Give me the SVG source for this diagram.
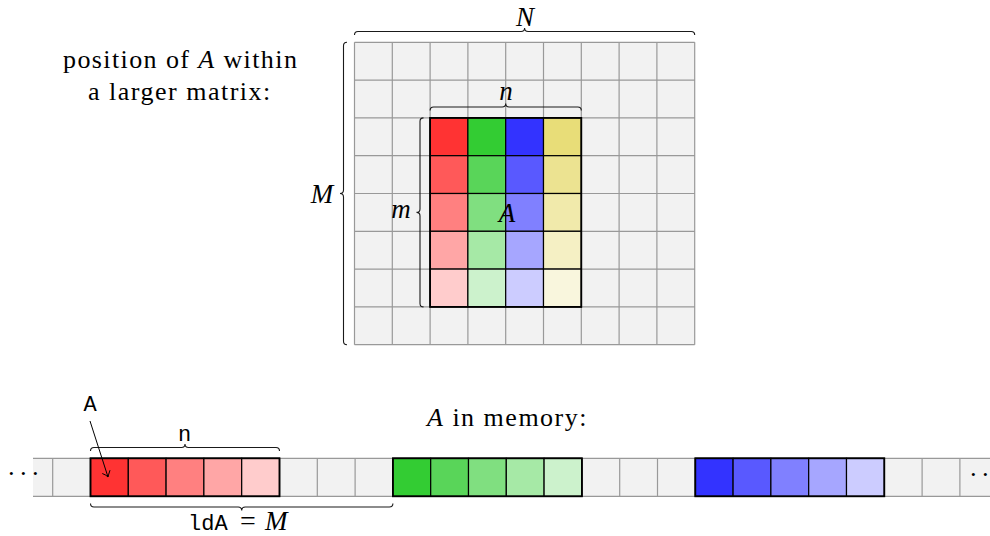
<svg xmlns="http://www.w3.org/2000/svg" width="990" height="536" viewBox="0 0 990 536">
<g id="big-matrix">
<rect fill="#f2f2f2" x="354.5" y="42.3" width="340.2" height="302.4"/>
<path fill="none" stroke="#999" stroke-width="1.2" d="M354.5,42.3V344.7M392.3,42.3V344.7M430.1,42.3V344.7M467.9,42.3V344.7M505.7,42.3V344.7M543.5,42.3V344.7M581.3,42.3V344.7M619.1,42.3V344.7M656.9,42.3V344.7M694.7,42.3V344.7M354.5,42.3H694.7M354.5,80.1H694.7M354.5,117.9H694.7M354.5,155.7H694.7M354.5,193.5H694.7M354.5,231.3H694.7M354.5,269.1H694.7M354.5,306.9H694.7M354.5,344.7H694.7"/>
</g>

<g id="matrix-A" stroke="#000" stroke-width="1.2">
<rect fill="#ff3333" x="430.1" y="117.9" width="37.8" height="37.8"/>
<rect fill="#ff5959" x="430.1" y="155.7" width="37.8" height="37.8"/>
<rect fill="#ff8080" x="430.1" y="193.5" width="37.8" height="37.8"/>
<rect fill="#ffa6a6" x="430.1" y="231.3" width="37.8" height="37.8"/>
<rect fill="#ffcccc" x="430.1" y="269.1" width="37.8" height="37.8"/>
<rect fill="#33cc33" x="467.9" y="117.9" width="37.8" height="37.8"/>
<rect fill="#59d559" x="467.9" y="155.7" width="37.8" height="37.8"/>
<rect fill="#80df80" x="467.9" y="193.5" width="37.8" height="37.8"/>
<rect fill="#a6e9a6" x="467.9" y="231.3" width="37.8" height="37.8"/>
<rect fill="#ccf2cc" x="467.9" y="269.1" width="37.8" height="37.8"/>
<rect fill="#3333ff" x="505.7" y="117.9" width="37.8" height="37.8"/>
<rect fill="#5959ff" x="505.7" y="155.7" width="37.8" height="37.8"/>
<rect fill="#8080ff" x="505.7" y="193.5" width="37.8" height="37.8"/>
<rect fill="#a6a6ff" x="505.7" y="231.3" width="37.8" height="37.8"/>
<rect fill="#ccccff" x="505.7" y="269.1" width="37.8" height="37.8"/>
<rect fill="#e8dd78" x="543.5" y="117.9" width="37.8" height="37.8"/>
<rect fill="#ece391" x="543.5" y="155.7" width="37.8" height="37.8"/>
<rect fill="#f1eaab" x="543.5" y="193.5" width="37.8" height="37.8"/>
<rect fill="#f5f0c4" x="543.5" y="231.3" width="37.8" height="37.8"/>
<rect fill="#f9f6dd" x="543.5" y="269.1" width="37.8" height="37.8"/>
<rect fill="none" stroke-width="1.8" x="430.1" y="117.9" width="151.2" height="189"/>
</g>

<g id="braces-top" fill="none" stroke="#1a1a1a" stroke-width="1.1">
<path d="M354.5,35Q354.5,31.5 358,31.5H521.1Q524.6,31.5 524.6,28Q524.6,31.5 528.1,31.5H691.2Q694.7,31.5 694.7,35"/>
<path d="M347,42.3Q343.5,42.3 343.5,45.8V190Q343.5,193.5 340,193.5Q343.5,193.5 343.5,197V341.2Q343.5,344.7 347,344.7"/>
<path d="M430.1,110.5Q430.1,107 433.6,107H502.2Q505.7,107 505.7,103.5Q505.7,107 509.2,107H577.8Q581.3,107 581.3,110.5"/>
<path d="M423.5,117.9Q420,117.9 420,121.4V208.9Q420,212.4 416.5,212.4Q420,212.4 420,215.9V303.4Q420,306.9 423.5,306.9"/>
</g>

<g id="memory-row">
<rect fill="#f2f2f2" x="33" y="458.3" width="957" height="38"/>
<path fill="none" stroke="#999" stroke-width="1.2" d="M33,458.3H990M33,496.3H990M52.7,458.3V496.3M90.5,458.3V496.3M279.5,458.3V496.3M317.3,458.3V496.3M355.1,458.3V496.3M392.9,458.3V496.3M581.9,458.3V496.3M619.7,458.3V496.3M657.5,458.3V496.3M695.3,458.3V496.3M884.3,458.3V496.3M922.1,458.3V496.3M959.9,458.3V496.3"/>
</g>

<g id="memory-red" stroke="#000" stroke-width="1.2">
<rect fill="#ff3333" x="90.5" y="458.3" width="37.8" height="38"/>
<rect fill="#ff5959" x="128.3" y="458.3" width="37.8" height="38"/>
<rect fill="#ff8080" x="166.1" y="458.3" width="37.8" height="38"/>
<rect fill="#ffa6a6" x="203.9" y="458.3" width="37.8" height="38"/>
<rect fill="#ffcccc" x="241.7" y="458.3" width="37.8" height="38"/>
<rect fill="none" stroke-width="1.8" x="90.5" y="458.3" width="189" height="38"/>
</g>

<g id="memory-green" stroke="#000" stroke-width="1.2">
<rect fill="#33cc33" x="392.9" y="458.3" width="37.8" height="38"/>
<rect fill="#59d559" x="430.7" y="458.3" width="37.8" height="38"/>
<rect fill="#80df80" x="468.5" y="458.3" width="37.8" height="38"/>
<rect fill="#a6e9a6" x="506.3" y="458.3" width="37.8" height="38"/>
<rect fill="#ccf2cc" x="544.1" y="458.3" width="37.8" height="38"/>
<rect fill="none" stroke-width="1.8" x="392.9" y="458.3" width="189" height="38"/>
</g>

<g id="memory-blue" stroke="#000" stroke-width="1.2">
<rect fill="#3333ff" x="695.3" y="458.3" width="37.8" height="38"/>
<rect fill="#5959ff" x="733.1" y="458.3" width="37.8" height="38"/>
<rect fill="#8080ff" x="770.9" y="458.3" width="37.8" height="38"/>
<rect fill="#a6a6ff" x="808.7" y="458.3" width="37.8" height="38"/>
<rect fill="#ccccff" x="846.5" y="458.3" width="37.8" height="38"/>
<rect fill="none" stroke-width="1.8" x="695.3" y="458.3" width="189" height="38"/>
</g>

<g id="braces-bottom" fill="none" stroke="#1a1a1a" stroke-width="1.1">
<path d="M90.5,451Q90.5,447.5 94,447.5H181.5Q185,447.5 185,444Q185,447.5 188.5,447.5H276Q279.5,447.5 279.5,451"/>
<path d="M90.5,503.5Q90.5,507 94,507H238.2Q241.7,507 241.7,510.5Q241.7,507 245.2,507H389.4Q392.9,507 392.9,503.5"/>
</g>

<g id="connectors" fill="none" stroke="#000" stroke-width="1">
<path d="M90,421L108,477"/>
<path d="M102.3,473.5Q106.6,475.2 108,477Q108.5,474.6 110,470.2"/>
</g>

<text x="63" y="68" font-family="Liberation Serif" font-size="26" letter-spacing="1.4">position of <tspan font-style="italic">A</tspan> within</text>
<text x="88" y="100" font-family="Liberation Serif" font-size="26" letter-spacing="1.5">a larger matrix:</text>
<text x="507" y="222" font-family="Liberation Serif" font-size="27" font-style="italic" text-anchor="middle">A</text>
<text x="525" y="26" font-family="Liberation Serif" font-size="27" font-style="italic" text-anchor="middle">N</text>
<text x="322" y="203" font-family="Liberation Serif" font-size="27" font-style="italic" text-anchor="middle">M</text>
<text x="506" y="100" font-family="Liberation Serif" font-size="27" font-style="italic" text-anchor="middle">n</text>
<text x="401" y="218" font-family="Liberation Serif" font-size="27" font-style="italic" text-anchor="middle">m</text>
<text x="427" y="426" font-family="Liberation Serif" font-size="26" letter-spacing="1.5"><tspan font-style="italic">A</tspan> in memory:</text>
<text x="7 19 31" y="482" font-family="Liberation Serif" font-size="26">···</text>
<text x="969 981" y="483" font-family="Liberation Serif" font-size="26">··</text>
<text x="90" y="411" font-family="Liberation Mono" font-size="22" text-anchor="middle">A</text>
<text x="184.5" y="441" font-family="Liberation Mono" font-size="22" text-anchor="middle">n</text>
<text x="188" y="530" font-family="Liberation Mono" font-size="22">ldA</text>
<text x="240" y="530" font-family="Liberation Serif" font-size="28">=</text>
<text x="265" y="530" font-family="Liberation Serif" font-size="27" font-style="italic">M</text>
</svg>
